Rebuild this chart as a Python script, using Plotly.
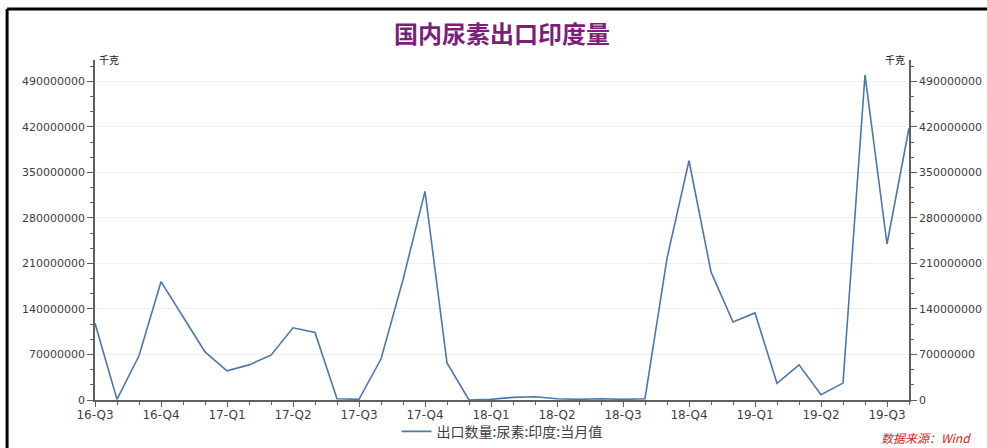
import plotly.graph_objects as go

# monthly index from Jul-2016 (0) to Aug-2019 (37)
month_idx = list(range(38))
export_india = [118e6, 1e6, 68e6, 182e6, 128e6, 74e6, 45e6, 54e6, 69e6, 111e6,
                104e6, 2e6, 1e6, 63e6, 185e6, 321e6, 57e6, 0, 1e6, 4e6,
                5e6, 2e6, 1e6, 2e6, 1e6, 2e6, 218e6, 368e6, 197e6, 120e6,
                134e6, 25.6e6, 54e6, 8e6, 26e6, 500e6, 240e6, 418e6]
quarter_pos = [0, 3, 6, 9, 12, 15, 18, 21, 24, 27, 30, 33, 36]
quarter_labels = ["16-Q3", "16-Q4", "17-Q1", "17-Q2", "17-Q3", "17-Q4", "18-Q1",
                  "18-Q2", "18-Q3", "18-Q4", "19-Q1", "19-Q2", "19-Q3"]
y_ticks = [0, 70e6, 140e6, 210e6, 280e6, 350e6, 420e6, 490e6]
y_tick_text = ["0", "70000000", "140000000", "210000000", "280000000",
               "350000000", "420000000", "490000000"]

LINE = "#4a78ab"
AX = "#5f5f5f"
TXT = "#404040"
FONT = "DejaVu Sans"
CJK = "Noto Sans CJK SC"

fig = go.Figure()
fig.add_trace(go.Scatter(x=month_idx, y=export_india, mode="lines",
                         name="出口数量:尿素:印度:当月值",
                         line=dict(color=LINE, width=1.6)))
fig.add_trace(go.Scatter(x=month_idx, y=export_india, mode="lines", yaxis="y2",
                         showlegend=False, hoverinfo="skip", opacity=0,
                         line=dict(color=LINE, width=1)))

yax_common = dict(range=[0, 523e6], tickvals=y_ticks, ticktext=y_tick_text,
                  showline=True, linecolor=AX, linewidth=1.5,
                  ticks="outside", ticklen=6, tickcolor=AX, tickwidth=1,
                  minor=dict(dtick=70e6 / 3, tick0=0, ticks="outside", ticklen=3,
                             tickcolor=AX, showgrid=False),
                  tickfont=dict(family=FONT, size=11, color=TXT),
                  zeroline=False, fixedrange=True, automargin=False)

fig.update_layout(
    width=987, height=448,
    margin=dict(l=95, r=78, t=60, b=48),
    paper_bgcolor="white", plot_bgcolor="white",
    showlegend=True,
    legend=dict(orientation="h", x=0.5, xanchor="center",
                yref="container", y=0.072, yanchor="top",
                font=dict(family=CJK, size=14, color=TXT),
                bgcolor="rgba(0,0,0,0)", itemwidth=30),
    xaxis=dict(range=[0, 37], tickvals=quarter_pos, ticktext=quarter_labels,
               showline=True, linecolor=AX, linewidth=1.5,
               ticks="outside", ticklen=5, tickcolor=AX,
               minor=dict(dtick=1, tick0=0, ticks="outside", ticklen=3, tickcolor=AX),
               tickfont=dict(family=FONT, size=12, color=TXT), ticklabelstandoff=-2,
               showgrid=False, zeroline=False, automargin=False),
    yaxis=dict(**yax_common, showgrid=True, gridcolor="#f0f0f0", gridwidth=1),
    yaxis2=dict(**yax_common, overlaying="y", side="right", showgrid=False),
    annotations=[
        dict(text="<b>国内尿素出口印度量</b>", xref="paper", yref="paper",
             x=0.5, xanchor="center", y=1.0, yanchor="bottom", yshift=8,
             showarrow=False, font=dict(family=CJK, size=24, color="#7b1f7b")),
        dict(text="千克", xref="paper", yref="paper", x=0, xanchor="left", xshift=2,
             y=1, yanchor="bottom", yshift=-9, showarrow=False,
             font=dict(family=CJK, size=10, color="#222")),
        dict(text="千克", xref="paper", yref="paper", x=1, xanchor="right", xshift=-2,
             y=1, yanchor="bottom", yshift=-9, showarrow=False,
             font=dict(family=CJK, size=10, color="#222")),
        dict(text="<i>数据来源：Wind</i>", xref="paper", yref="paper",
             x=1, xanchor="left", xshift=-30, y=0, yanchor="top", yshift=-27,
             showarrow=False, font=dict(family=CJK, size=12, color="#e02020")),
    ],
    shapes=[
        dict(type="rect", xref="paper", yref="paper", x0=-0.2, x1=1.2,
             y0=1.176, y1=1.3, fillcolor="#ececec", line=dict(width=0), layer="below"),
        dict(type="line", xref="paper", yref="paper", x0=-0.108, x1=1.2,
             y0=1.150, y1=1.150, line=dict(color="black", width=3)),
        dict(type="line", xref="paper", yref="paper", x0=-0.108, x1=-0.108,
             y0=1.150, y1=-0.2, line=dict(color="black", width=3)),
    ],
)

fig.write_html("out.html")
